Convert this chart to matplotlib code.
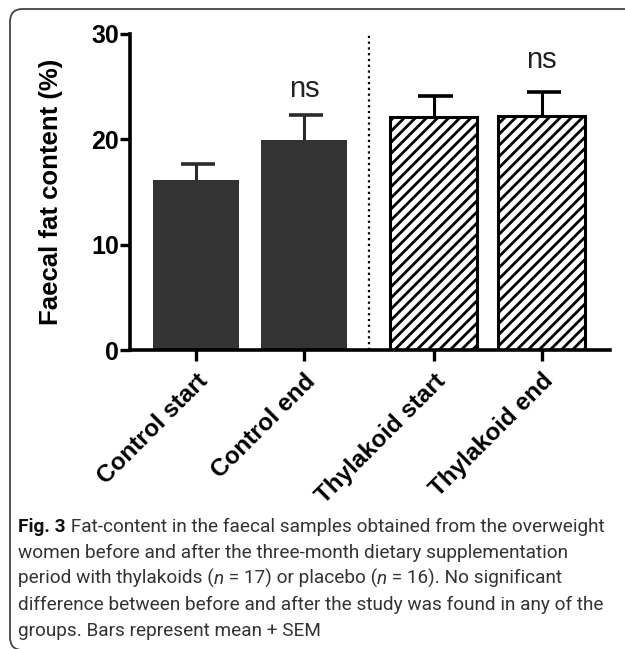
import matplotlib

matplotlib.use("Agg")
import matplotlib.pyplot as plt
from matplotlib.patches import FancyBboxPatch
from matplotlib.transforms import IdentityTransform

# values
categories = ["Control start", "Control end", "Thylakoid start", "Thylakoid end"]
means = [16.15, 19.87, 22.08, 22.14]
sem = [1.51, 2.40, 1.95, 2.36]
hatched = [False, False, True, True]
sig_labels = ["", "ns", "", "ns"]
sig_heights = [0, 24.0, 0, 26.7]
yticks = [0, 10, 20, 30]

caption_lines = [
    [("Fig. 3", "bold"), (" Fat-content in the faecal samples obtained from the overweight", "normal")],
    [("women before and after the three-month dietary supplementation", "normal")],
    [("period with thylakoids (", "normal"), ("n", "italic"), (" = 17) or placebo (", "normal"),
     ("n", "italic"), (" = 16). No significant", "normal")],
    [("difference between before and after the study was found in any of the", "normal")],
    [("groups. Bars represent mean + SEM", "normal")],
]

plt.rcParams["hatch.linewidth"] = 2.0

W, H = 625, 649
fig = plt.figure(figsize=(W / 100, H / 100), dpi=100)
fig.patch.set_facecolor("white")

# rounded frame around the panel (runs off the right edge, corner at the bottom)
frame = FancyBboxPatch(
    (10 / W, -1 / H), 1.2, 1 - 8 / H,
    boxstyle="round,pad=0,rounding_size=0.02",
    transform=fig.transFigure, facecolor="none", edgecolor="#444444",
    linewidth=1.3, clip_on=False,
)
fig.patches.append(frame)

ax = fig.add_axes([130 / W, 1 - 350 / H, 480 / W, (350 - 33.5) / H])

# group gap between control and thylakoid bars
pos = [0.0, 1.0, 2.2, 3.2]
width = 0.8
for x, m, s, h in zip(pos, means, sem, hatched):
    if h:
        ax.bar(x, m, width=width, facecolor="white", edgecolor="black",
               hatch="///", linewidth=2.2, zorder=2)
        ecol = "black"
    else:
        ax.bar(x, m, width=width, color="#333333", linewidth=0, zorder=2)
        ecol = "#2b2b2b"
    ax.vlines(x, m, m + s, color=ecol, linewidth=2.2, zorder=3)
    ax.hlines(m + s, x - 0.14, x + 0.18, color=ecol, linewidth=2.6, zorder=3)

for x, lab, y in zip(pos, sig_labels, sig_heights):
    if lab:
        ax.text(x, y, lab, ha="center", va="baseline", fontsize=21,
                family="Liberation Sans", color="#222222")

ax.axvline(1.6, ymin=0, ymax=1, color="black", linestyle=(0, (1, 1.6)),
           linewidth=1.6, zorder=1)

ax.set_xlim(-0.611, 3.833)
ax.set_ylim(0, 30)
ax.set_yticks(yticks)
ax.set_yticklabels([str(t) for t in yticks], fontsize=18, fontweight="bold",
                   family="Liberation Sans")
ax.set_xticks(pos)
ax.set_xticklabels(categories, fontsize=17.5, fontweight="bold",
                   family="Liberation Sans", rotation=45, ha="right",
                   va="top", rotation_mode="anchor")
ax.tick_params(axis="y", length=7, width=2.4, pad=1)
ax.tick_params(axis="x", length=8, width=2.4, pad=6)
for side in ["top", "right"]:
    ax.spines[side].set_visible(False)
for side in ["left", "bottom"]:
    ax.spines[side].set_linewidth(2.6)
ax.set_ylabel("Faecal fat content (%)", fontsize=18.5, fontweight="bold",
              family="Liberation Sans", labelpad=20)

# caption, built run by run so the bold and italic parts line up
renderer = fig.canvas.get_renderer()
cap_font = "Roboto"


def draw_line(line, x, y, fs):
    for txt, style in line:
        kw = {"fontweight": "bold", "color": "#111111"} if style == "bold" else {"color": "#333333"}
        if style == "italic":
            kw["fontstyle"] = "italic"
        t = fig.text(x, y, txt.replace(" ", "\u00a0"), transform=IdentityTransform(),
                     fontsize=fs, family=cap_font, ha="left", va="baseline", **kw)
        x = t.get_window_extent(renderer).x1
    return x


# fit the first caption line to the width it takes in the reference
probe = fig.text(0, 0, "".join(t for t, _ in caption_lines[0]).replace(" ", "\u00a0"),
                 fontsize=10, family=cap_font, transform=IdentityTransform())
fs = 10 * 586 / probe.get_window_extent(renderer).width
probe.remove()

x_left, y_first, step = 18, H - 532, 26.0
for i, line in enumerate(caption_lines):
    draw_line(line, x_left, y_first - i * step, fs)

fig.savefig("out.png", dpi=100, facecolor="white")
